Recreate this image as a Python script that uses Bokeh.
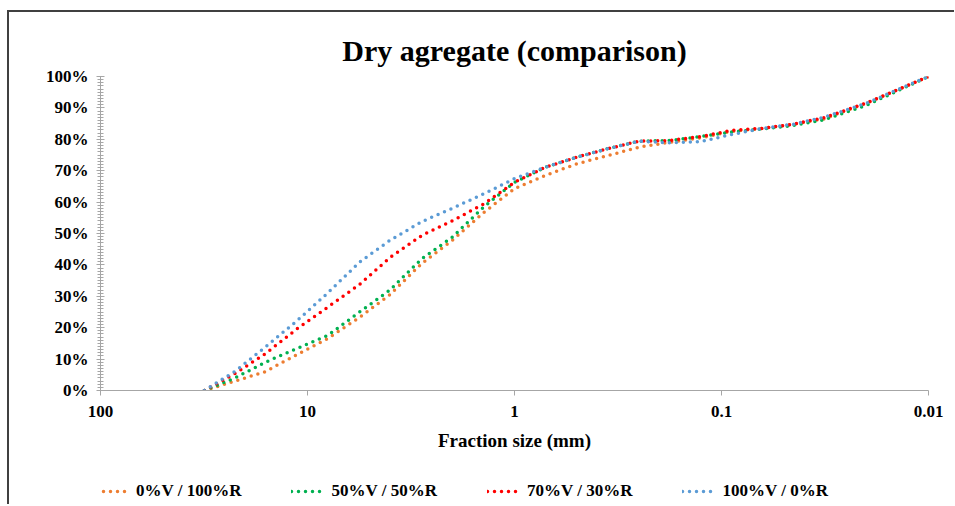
from bokeh.plotting import figure
from bokeh.layouts import column
from bokeh.models import (Range1d, FixedTicker, PrintfTickFormatter, CustomJSTickFormatter,
                          Legend, LegendItem, ColumnDataSource)
from bokeh.embed import file_html
from bokeh.resources import INLINE

# ---- data ----
sizes = [31.5, 22.4, 16, 11.2, 8, 5.6, 4, 2.8, 2, 1.4, 1, 0.71, 0.5, 0.355,
         0.25, 0.18, 0.125, 0.09, 0.063, 0.045, 0.032, 0.02, 0.01]
v0_r100 = [0, 3, 6, 11.5, 16.5, 23.3, 30.5, 40.5, 47.8, 56.8, 64.3, 68.5, 72.2, 74.8,
           77.5, 79, 80.5, 82.5, 83.5, 84.8, 86.5, 91.5, 100]
v50_r50 = [0, 4, 9, 13.4, 17.5, 25, 32, 42, 48.8, 58.6, 66.3, 71.1, 74.3, 77,
           79.4, 79.6, 80.9, 82.3, 83.3, 84.4, 86.2, 90.8, 100]
v70_r30 = [0, 5.4, 11.7, 19.7, 26.5, 33.8, 42.3, 49.4, 54, 59.5, 66.3, 71.1, 74.3, 77,
           79.4, 79.6, 80.9, 82.8, 83.5, 84.8, 86.9, 91.5, 100]
v100_r0 = [0, 6.1, 13.8, 22.3, 31, 40.9, 47.8, 53.8, 58, 62.7, 67.5, 71.1, 74.3, 77,
           79.4, 78.9, 79.3, 81.5, 83.5, 84.8, 87, 91.5, 100]
labels = ["0%V / 100%R", "50%V / 50%R", "70%V / 30%R", "100%V / 0%R"]
colors = ["#ED7D31", "#00B050", "#FF0000", "#5B9BD5"]
x_ticks = [100, 10, 1, 0.1, 0.01]
y_ticks = list(range(0, 101, 10))

FONT = "Liberation Serif"
LINE_KW = dict(line_width=3.5, line_dash="0 7", line_cap="round")

p = figure(frame_width=828, frame_height=314, x_axis_type="log",
           x_range=Range1d(100, 0.01), y_range=Range1d(0, 100),
           output_backend="svg", toolbar_location=None,
           min_border_left=91, min_border_right=26, min_border_top=64, min_border_bottom=70,
           title="Dry agregate (comparison)")

p.title.text_font = FONT
p.title.text_font_size = "30px"
p.title.text_font_style = "bold"
p.title.text_color = "#000000"
p.title.align = "center"
p.title.standoff = 20

p.outline_line_color = None
p.xgrid.visible = False
p.ygrid.visible = False

# x axis
xa = p.xaxis[0]
xa.ticker = FixedTicker(ticks=x_ticks, minor_ticks=[])
xa.formatter = CustomJSTickFormatter(code="return tick.toString();")
xa.axis_line_color = "#a6a6a6"
xa.major_tick_line_color = "#a6a6a6"
xa.major_tick_in = 0
xa.major_tick_out = 5
xa.minor_tick_line_color = None
xa.major_label_text_font = FONT
xa.major_label_text_font_size = "17px"
xa.major_label_text_font_style = "bold"
xa.major_label_text_color = "#000000"
xa.major_label_standoff = 10
xa.axis_label = "Fraction size (mm)"
xa.axis_label_text_font = FONT
xa.axis_label_text_font_size = "19px"
xa.axis_label_text_font_style = "bold"
xa.axis_label_text_color = "#000000"
xa.axis_label_standoff = 10

# y axis
ya = p.yaxis[0]
ya.ticker = FixedTicker(ticks=y_ticks, minor_ticks=list(range(0, 101, 1)))
ya.formatter = PrintfTickFormatter(format="%d%%")
ya.axis_line_color = "#a6a6a6"
ya.major_tick_line_color = "#a6a6a6"
ya.minor_tick_line_color = "#a6a6a6"
ya.major_tick_in = 4
ya.major_tick_out = 4
ya.minor_tick_in = 3
ya.minor_tick_out = 3
ya.major_label_text_font = FONT
ya.major_label_text_font_size = "17px"
ya.major_label_text_font_style = "bold"
ya.major_label_text_color = "#000000"
ya.major_label_standoff = 8

series = [v0_r100, v50_r50, v70_r30, v100_r0]
for vals, col in zip(series, colors):
    src = ColumnDataSource(dict(x=sizes, y=vals))
    p.line("x", "y", source=src, line_color=col, **LINE_KW)

# legend strip below the chart (same series, kept out of its visible range)
lg_fig = figure(width=945, height=44, x_axis_type="log",
                x_range=Range1d(100, 0.01), y_range=Range1d(-300, -200),
                x_axis_location=None, y_axis_location=None,
                output_backend="svg", toolbar_location=None, min_border=0)
lg_fig.xgrid.visible = False
lg_fig.ygrid.visible = False
lg_fig.outline_line_color = None
items = []
for vals, lab, col in zip(series, labels, colors):
    src = ColumnDataSource(dict(x=sizes, y=vals))
    r = lg_fig.line("x", "y", source=src, line_color=col, **LINE_KW)
    items.append(LegendItem(label=lab, renderers=[r]))
legend = Legend(items=items, orientation="horizontal", location=(-4, 3),
                border_line_color=None, background_fill_alpha=0,
                label_text_font=FONT, label_text_font_size="17px",
                label_text_font_style="bold", label_text_color="#000000",
                glyph_width=35, glyph_height=16, label_standoff=5, spacing=50,
                margin=0, padding=4)
lg_fig.add_layout(legend, "center")

layout = column(p, lg_fig, spacing=0)
layout.styles = {"margin-left": "7px", "margin-top": "10px",
                 "border-left": "2px solid #404040", "border-top": "2px solid #404040"}

open("out.html", "w").write(file_html(layout, INLINE))
